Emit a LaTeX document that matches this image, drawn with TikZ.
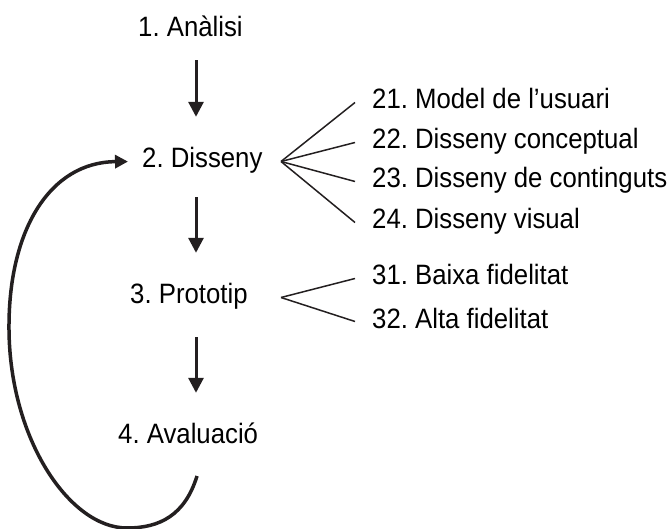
\documentclass[tikz,border=0pt]{standalone}
\usepackage{fontspec}
\setmainfont{Liberation Sans}[FakeStretch=0.92]
\frenchspacing
\usetikzlibrary{arrows.meta}
\definecolor{ink}{HTML}{231F20}
\begin{document}
\begin{tikzpicture}[x=1pt,y=-1pt,
  label/.style={anchor=base west,inner sep=0pt,text height=19pt,text depth=6pt,
    font=\fontsize{28}{32}\selectfont,text=black},
  flow/.style={draw=ink,line width=3pt,shorten <=23pt,shorten >=32pt,
    -{Triangle[width=15pt,length=15pt]}},
  branch/.style={draw=ink,line width=1.5pt},
  loopback/.style={draw=ink,line width=3.5pt,shorten >=14pt,
    -{Triangle[width=13pt,length=13pt]}}]
\useasboundingbox (0,0) rectangle (672,529);

% main phases
\node[label] (n1) at (138,37)  {1. Anàlisi};
\node[label] (n2) at (142,168) {2. Disseny};
\node[label] (n3) at (130,304) {3. Prototip};
\node[label] (n4) at (118,443) {4. Avaluació};

% sub-phases
\node[label] (n21) at (372,109) {21. Model de l’usuari};
\node[label] (n22) at (372,149) {22. Disseny conceptual};
\node[label] (n23) at (372,188) {23. Disseny de continguts};
\node[label] (n24) at (372,229) {24. Disseny visual};
\node[label] (n31) at (372,285) {31. Baixa fidelitat};
\node[label] (n32) at (372,328) {32. Alta fidelitat};

% vertical flow
\coordinate (ax) at (196,0);
\draw[flow,shorten <=17pt] (n1.south -| ax) -- (n2.north -| ax);
\draw[flow] (n2.south -| ax) -- (n3.north -| ax);
\draw[flow,shorten <=27pt,shorten >=31pt] (n3.south -| ax) -- (n4.north -| ax);

% fans to the sub-phases
\coordinate (f2) at (281,0 |- n2.east);
\coordinate (f3) at (281,0 |- n3.east);
\foreach \s in {n21,n22,n23,n24}
  \draw[branch] ([xshift=-17pt]\s.west) -- (f2);
\foreach \s in {n31,n32}
  \draw[branch] ([xshift=-17pt]\s.west) -- (f3);

% iteration loop back to design
\coordinate (lstart) at (197,476);
\draw[loopback] (lstart) .. controls (185,515) and (160,528) .. (127,528)
  .. controls (70,528) and (10,440) .. (9,330)
  .. controls (8,230) and (50,162) .. (n2.west);
\end{tikzpicture}
\end{document}
